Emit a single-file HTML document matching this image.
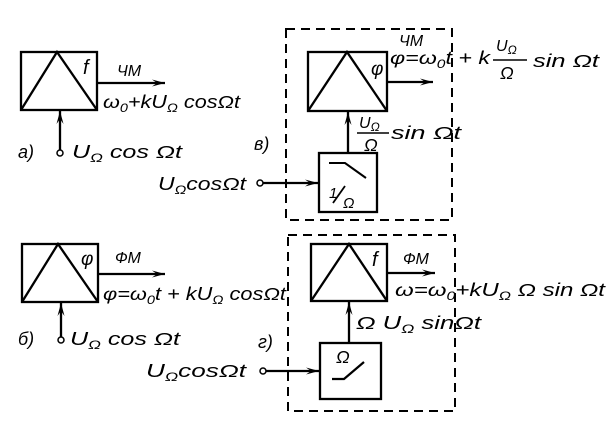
<!DOCTYPE html>
<html><head><meta charset="utf-8"><style>
html,body{margin:0;padding:0;background:#fff;}
svg{display:block;}
text{font-family:"Liberation Sans",sans-serif;font-style:italic;fill:#000;}
.s{font-size:12px;}
</style></head><body>
<svg width="616" height="425" viewBox="0 0 616 425" xmlns="http://www.w3.org/2000/svg">
<defs><marker id="ar" markerWidth="14" markerHeight="8" refX="13" refY="4" orient="auto" markerUnits="userSpaceOnUse"><path d="M0,0.5 L13,4 L0,7.5 L5,4 Z" fill="#000"/></marker></defs>
<g stroke="#000" stroke-width="2.3" fill="none">
<!-- a -->
<rect x="21" y="52" width="76" height="58"/>
<path d="M21,110 L57,52 L97,110"/>
<line x1="97" y1="83" x2="165" y2="83" marker-end="url(#ar)"/>
<line x1="60" y1="151" x2="60" y2="111" marker-end="url(#ar)"/>
<circle cx="60" cy="153" r="3" fill="#fff" stroke-width="1.5"/>
<!-- b -->
<rect x="22" y="244" width="76" height="58"/>
<path d="M22,302 L58,244 L98,302"/>
<line x1="98" y1="274" x2="165" y2="274" marker-end="url(#ar)"/>
<line x1="61" y1="338" x2="61" y2="303" marker-end="url(#ar)"/>
<circle cx="61" cy="340" r="3" fill="#fff" stroke-width="1.5"/>
<!-- v -->
<rect x="286" y="29" width="166" height="191" stroke-dasharray="9,6" stroke-width="2"/>
<rect x="308" y="52" width="79" height="59"/>
<path d="M308,111 L347,52 L387,111"/>
<line x1="387" y1="82" x2="433" y2="82" marker-end="url(#ar)"/>
<rect x="319" y="153" width="58" height="59"/>
<line x1="348" y1="153" x2="348" y2="112" marker-end="url(#ar)"/>
<line x1="262" y1="183" x2="318" y2="183" marker-end="url(#ar)"/>
<circle cx="260" cy="183" r="3" fill="#fff" stroke-width="1.5"/>
<path d="M329,163 L345,163 L366,178" stroke-width="2"/>
<line x1="333" y1="203" x2="345" y2="186" stroke-width="1.8"/>
<!-- g -->
<rect x="288" y="235" width="167" height="176" stroke-dasharray="9,6" stroke-width="2"/>
<rect x="311" y="244" width="76" height="57"/>
<path d="M311,301 L349,244 L387,301"/>
<line x1="387" y1="273" x2="435" y2="273" marker-end="url(#ar)"/>
<rect x="320" y="343" width="61" height="56"/>
<line x1="349" y1="343" x2="349" y2="302" marker-end="url(#ar)"/>
<line x1="265" y1="371" x2="319" y2="371" marker-end="url(#ar)"/>
<circle cx="263" cy="371" r="3" fill="#fff" stroke-width="1.5"/>
<path d="M332,379 L344,379 L364,362" stroke-width="2.2"/>
<!-- fraction lines -->
<line x1="357" y1="133" x2="389" y2="133" stroke-width="1.6"/>
<line x1="493" y1="60" x2="527" y2="60" stroke-width="1.6"/>
</g>
<g font-size="18">
<text x="83" y="74" font-size="20">f</text>
<text x="117" y="76" font-size="16">ЧМ</text>
<text x="103" y="108" textLength="137" lengthAdjust="spacingAndGlyphs">ω<tspan class="s" dy="4">0</tspan><tspan dy="-4">+kU</tspan><tspan class="s" dy="4">Ω</tspan><tspan dy="-4"> cosΩt</tspan></text>
<text x="18" y="158">a)</text>
<text x="72" y="158" textLength="110" lengthAdjust="spacingAndGlyphs">U<tspan class="s" dy="4">Ω</tspan><tspan dy="-4"> cos Ωt</tspan></text>

<text x="81" y="265" font-size="19">φ</text>
<text x="115" y="263" font-size="16">ФМ</text>
<text x="103" y="300" textLength="183" lengthAdjust="spacingAndGlyphs">φ=ω<tspan class="s" dy="4">0</tspan><tspan dy="-4">t + kU</tspan><tspan class="s" dy="4">Ω</tspan><tspan dy="-4"> cosΩt</tspan></text>
<text x="18" y="345">б)</text>
<text x="70" y="345" textLength="110" lengthAdjust="spacingAndGlyphs">U<tspan class="s" dy="4">Ω</tspan><tspan dy="-4"> cos Ωt</tspan></text>

<text x="371" y="75" font-size="19">φ</text>
<text x="399" y="46" font-size="16">ЧМ</text>
<text x="390" y="64" textLength="100" lengthAdjust="spacingAndGlyphs">φ=ω<tspan class="s" dy="4">0</tspan><tspan dy="-4">t + k</tspan></text>
<text x="496" y="51" font-size="16">U<tspan class="s" dy="3">Ω</tspan></text>
<text x="500" y="79" font-size="18" font-style="normal">Ω</text>
<text x="533" y="67" textLength="66" lengthAdjust="spacingAndGlyphs">sin Ωt</text>
<text x="359" y="128" font-size="16">U<tspan class="s" dy="3">Ω</tspan></text>
<text x="364" y="151" font-size="18" font-style="normal">Ω</text>
<text x="391" y="139" textLength="70" lengthAdjust="spacingAndGlyphs">sin Ωt</text>
<text x="254" y="150">в)</text>
<text x="158" y="190" textLength="88" lengthAdjust="spacingAndGlyphs">U<tspan class="s" dy="4">Ω</tspan><tspan dy="-4">cosΩt</tspan></text>
<text x="329" y="198" font-size="15">1</text>
<text x="343" y="208" font-size="15" font-style="normal">Ω</text>

<text x="372" y="266" font-size="20">f</text>
<text x="403" y="264" font-size="16">ФМ</text>
<text x="395" y="296" textLength="210" lengthAdjust="spacingAndGlyphs">ω=ω<tspan class="s" dy="4">0</tspan><tspan dy="-4">+kU</tspan><tspan class="s" dy="4">Ω</tspan><tspan dy="-4"> Ω sin Ωt</tspan></text>
<text x="356" y="329" textLength="125" lengthAdjust="spacingAndGlyphs">Ω U<tspan class="s" dy="4">Ω</tspan><tspan dy="-4"> sinΩt</tspan></text>
<text x="258" y="348">г)</text>
<text x="146" y="377" textLength="100" lengthAdjust="spacingAndGlyphs">U<tspan class="s" dy="4">Ω</tspan><tspan dy="-4">cosΩt</tspan></text>
<text x="336" y="363" font-size="18" font-style="normal">Ω</text>
</g>
</svg>
</body></html>
